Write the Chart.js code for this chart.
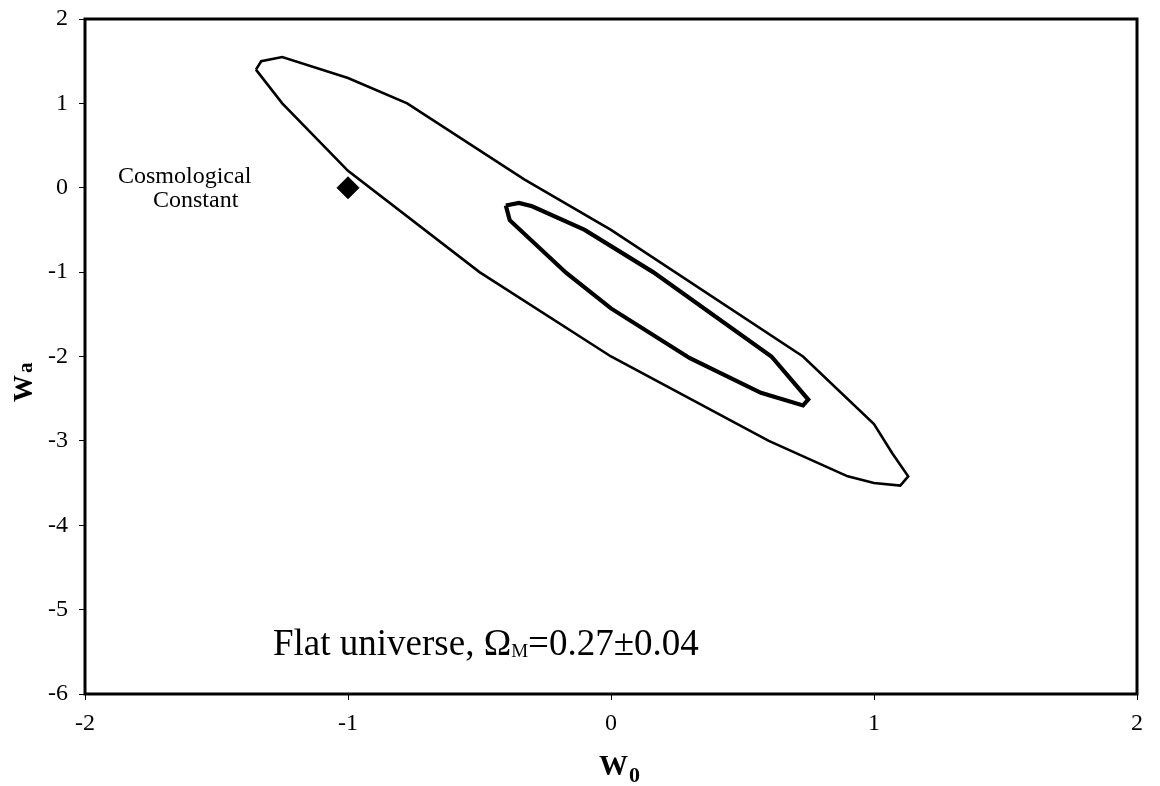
<!DOCTYPE html>
<html>
<head>
<meta charset="utf-8">
<script src="https://cdn.jsdelivr.net/npm/chart.js@4"></script>
<style>
  html, body { margin: 0; padding: 0; background: #fff; }
  #wrap { width: 1160px; height: 786px; }
</style>
</head>
<body>
<div id="wrap"><canvas id="grafico" width="1160" height="786"></canvas></div>
<script>
// Contorno exterior (línea fina)
const outerW0 = [-1.35, -1.33, -1.25, -1.00, -0.775, -0.33, 0.00, 0.73, 1.00, 1.07, 1.13, 1.10, 1.00, 0.90, 0.60, 0.00, -0.50, -1.00, -1.25, -1.35];
const outerWa = [1.40, 1.50, 1.55, 1.30, 1.00, 0.10, -0.50, -2.00, -2.80, -3.15, -3.42, -3.53, -3.50, -3.42, -3.00, -2.00, -1.00, 0.20, 1.00, 1.40];

// Contorno interior (línea gruesa)
const innerW0 = [-0.40, -0.35, -0.30, -0.10, 0.16, 0.61, 0.75, 0.73, 0.57, 0.30, 0.00, -0.17, -0.385, -0.40];
const innerWa = [-0.21, -0.18, -0.22, -0.50, -1.00, -2.00, -2.51, -2.58, -2.43, -2.02, -1.43, -1.01, -0.385, -0.21];

// Constante cosmológica
const lambdaW0 = [-1];
const lambdaWa = [0];

const xTicks = [-2, -1, 0, 1, 2];
const yTicks = [-6, -5, -4, -3, -2, -1, 0, 1, 2];

const toPoints = (xs, ys) => xs.map((x, i) => ({ x: x, y: ys[i] }));

const SERIF = "'Liberation Serif', 'Times New Roman', serif";

// Marco, anotaciones y títulos de ejes
const anotaciones = {
    id: 'anotaciones',
    afterDraw(chart) {
        const { ctx, chartArea: a } = chart;
        ctx.save();
        ctx.strokeStyle = '#000';
        ctx.lineWidth = 3;
        ctx.strokeRect(a.left, a.top, a.right - a.left, a.bottom - a.top);

        ctx.fillStyle = '#000';
        ctx.textBaseline = 'alphabetic';
        ctx.textAlign = 'left';

        // Etiqueta de la constante cosmológica
        ctx.font = `24px ${SERIF}`;
        ctx.fillText('Cosmological', 118, 183);
        ctx.fillText('Constant', 153, 207);

        // Texto inferior
        ctx.font = `37px ${SERIF}`;
        let x = 273, y = 655;
        const t1 = 'Flat universe, Ω';
        ctx.fillText(t1, x, y);
        x += ctx.measureText(t1).width;
        ctx.font = `19px ${SERIF}`;
        ctx.fillText('M', x, y + 2);
        x += ctx.measureText('M').width;
        ctx.font = `37px ${SERIF}`;
        ctx.fillText('=0.27±0.04', x, y);

        // Título eje x
        ctx.font = `bold 29px ${SERIF}`;
        ctx.fillText('W', 599, 775);
        const wX = ctx.measureText('W').width;
        ctx.font = `bold 22px ${SERIF}`;
        ctx.fillText('0', 599 + wX + 1, 782);

        // Título eje y
        ctx.translate(32, 402);
        ctx.rotate(-Math.PI / 2);
        ctx.font = `bold 27px ${SERIF}`;
        ctx.fillText('W', 0, 0);
        const wY = ctx.measureText('W').width;
        ctx.font = `bold 21px ${SERIF}`;
        ctx.fillText('a', wY + 2, 0);
        ctx.restore();
    }
};

const ctx = document.getElementById('grafico').getContext('2d');

new Chart(ctx, {
    type: 'scatter',
    data: {
        datasets: [
            {
                data: toPoints(outerW0, outerWa),
                showLine: true,
                borderColor: '#000',
                borderWidth: 2.6,
                pointRadius: 0,
                tension: 0,
                fill: false
            },
            {
                data: toPoints(innerW0, innerWa),
                showLine: true,
                borderColor: '#000',
                borderWidth: 4.2,
                pointRadius: 0,
                tension: 0,
                fill: false
            },
            {
                data: toPoints(lambdaW0, lambdaWa),
                showLine: false,
                pointStyle: 'rectRot',
                pointRadius: 11,
                borderWidth: 1,
                backgroundColor: '#000',
                borderColor: '#000'
            }
        ]
    },
    options: {
        responsive: false,
        animation: false,
        devicePixelRatio: 1,
        layout: { padding: { top: 19, right: 23, left: 0, bottom: 0 } },
        plugins: {
            legend: { display: false },
            tooltip: { enabled: false }
        },
        scales: {
            x: {
                type: 'linear',
                min: -2,
                max: 2,
                afterBuildTicks: (scale) => { scale.ticks = xTicks.map(v => ({ value: v })); },
                afterFit: (scale) => { scale.height = 92; scale.paddingLeft = 0; scale.paddingRight = 0; },
                grid: { drawOnChartArea: false, tickLength: 6, color: '#000', tickColor: '#000' },
                border: { display: false },
                ticks: {
                    color: '#000',
                    padding: 9,
                    font: { family: SERIF, size: 24 }
                }
            },
            y: {
                type: 'linear',
                min: -6,
                max: 2,
                afterBuildTicks: (scale) => { scale.ticks = yTicks.map(v => ({ value: v })); },
                afterFit: (scale) => { scale.width = 85; scale.paddingTop = 0; scale.paddingBottom = 0; },
                grid: { drawOnChartArea: false, tickLength: 6, color: '#000', tickColor: '#000' },
                border: { display: false },
                ticks: {
                    color: '#000',
                    padding: 11,
                    font: { family: SERIF, size: 24 }
                }
            }
        }
    },
    plugins: [anotaciones]
});
</script>
</body>
</html>
